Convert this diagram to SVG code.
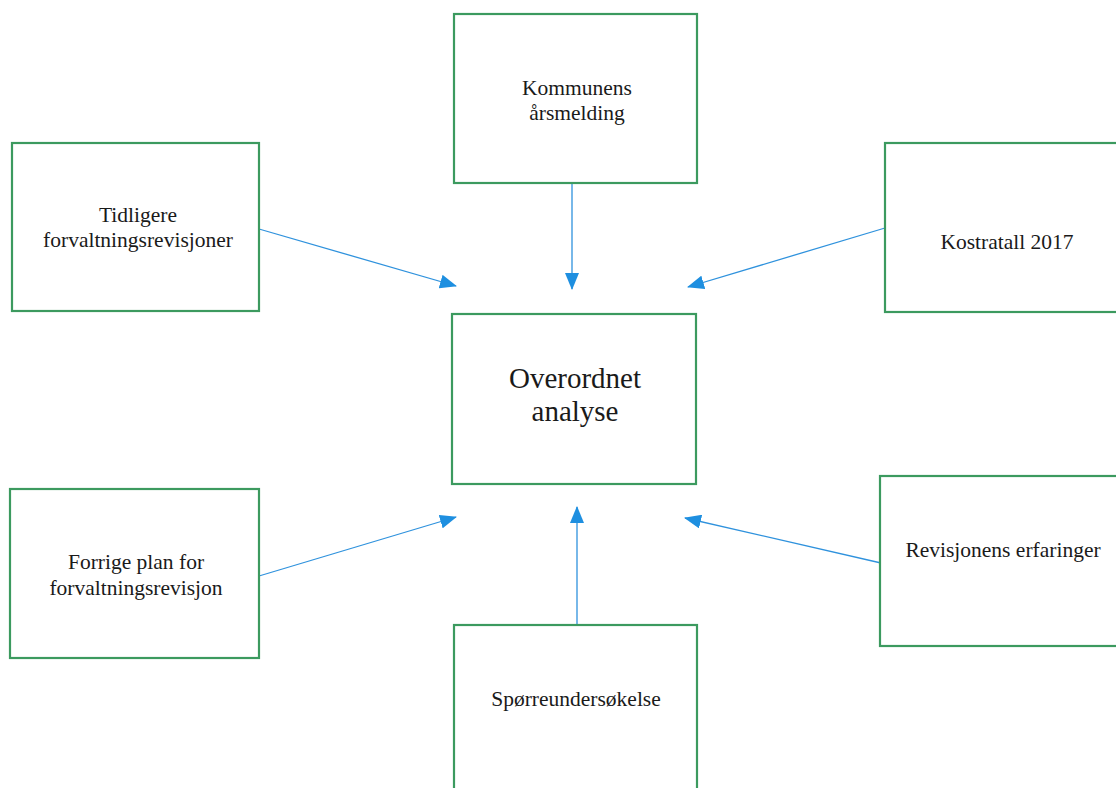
<svg xmlns="http://www.w3.org/2000/svg" width="1116" height="788" viewBox="0 0 1116 788">
<style>
.box{fill:#fff;stroke:#3c9a5f;stroke-width:2.2}
.t{font-family:"Liberation Serif","Times New Roman",serif;font-size:21.5px;fill:#1a1a1a;text-anchor:middle}
.big{font-size:29px}
.c{stroke:#2f92dd;stroke-width:1.3;fill:none;marker-end:url(#ah)}
</style>
<defs>
<marker id="ah" markerWidth="17" markerHeight="14" refX="16" refY="7" orient="auto" markerUnits="userSpaceOnUse">
<path d="M0,0 L17,7 L0,14 Z" fill="#1e8fe0"/>
</marker>
</defs>
<rect width="1116" height="788" fill="#fff"/>
<g id="connectors">
<line class="c" x1="572" y1="184" x2="572" y2="289"/>
<line class="c" x1="259" y1="229" x2="456" y2="286"/>
<line class="c" x1="885" y1="228" x2="688" y2="287"/>
<line class="c" x1="259" y1="576" x2="456" y2="517"/>
<line class="c" x1="577" y1="626" x2="577" y2="507"/>
<line class="c" x1="881" y1="563" x2="685" y2="518"/>
</g>
<g id="kommunens">
<rect class="box" x="454" y="14" width="243" height="169"/>
<text class="t" x="577" y="95">Kommunens</text>
<text class="t" x="577" y="120">årsmelding</text>
</g>
<g id="tidligere">
<rect class="box" x="12" y="143" width="247" height="168"/>
<text class="t" x="138" y="222">Tidligere</text>
<text class="t" x="138" y="247">forvaltningsrevisjoner</text>
</g>
<g id="kostratall">
<rect class="box" x="885" y="143" width="240" height="169"/>
<text class="t" x="1007" y="249">Kostratall 2017</text>
</g>
<g id="overordnet">
<rect class="box" x="452" y="314" width="244" height="170"/>
<text class="t big" x="575" y="388">Overordnet</text>
<text class="t big" x="575" y="421">analyse</text>
</g>
<g id="forrige">
<rect class="box" x="10" y="489" width="249" height="169"/>
<text class="t" x="136" y="569">Forrige plan for</text>
<text class="t" x="136" y="595">forvaltningsrevisjon</text>
</g>
<g id="revisjonens">
<rect class="box" x="880" y="476" width="245" height="170"/>
<text class="t" x="1003" y="557">Revisjonens erfaringer</text>
</g>
<g id="sporreundersokelse">
<rect class="box" x="454" y="625" width="243" height="180"/>
<text class="t" x="576" y="706">Spørreundersøkelse</text>
</g>
</svg>
